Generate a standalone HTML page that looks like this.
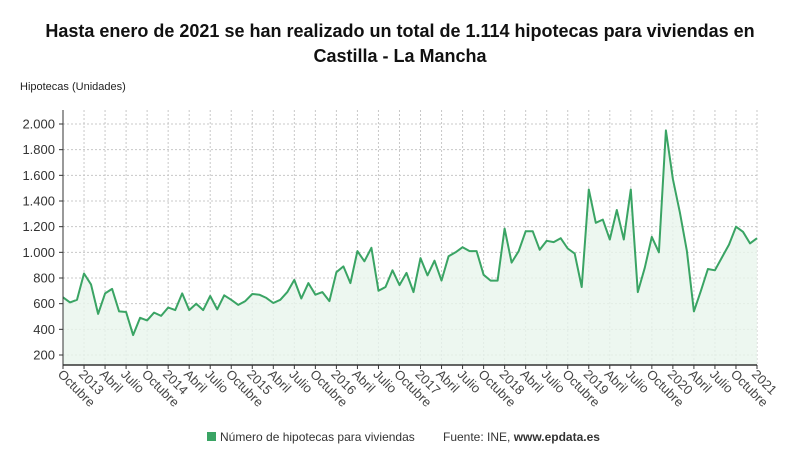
<!DOCTYPE html>
<html><head><meta charset="utf-8"><style>
body{margin:0;background:#fff;width:800px;height:470px;overflow:hidden;font-family:"Liberation Sans",sans-serif}
#title{position:absolute;left:0;top:19px;width:800px;text-align:center;font-weight:bold;font-size:18px;line-height:25px;color:#111}
</style></head><body>
<div id="title">Hasta enero de 2021 se han realizado un total de 1.114 hipotecas para viviendas en<br>Castilla - La Mancha</div>
<svg id="chart" width="800" height="470" style="position:absolute;left:0;top:0"></svg>
<script>
const values=[650,610,630,
835,750,520,680,715,540,535,355,490,470,530,505,
570,550,680,550,600,550,660,555,665,630,590,620,
675,670,645,605,630,690,785,640,760,670,690,620,
845,890,760,1010,930,1035,700,730,860,745,840,690,
955,820,935,780,970,1000,1040,1010,1010,825,780,780,
1185,920,1010,1165,1165,1020,1090,1080,1110,1030,990,730,
1490,1230,1255,1100,1330,1100,1490,690,880,1120,1000,1950,
1570,1310,1010,540,700,870,860,960,1060,1200,1160,1070,
1110];
const yTicks=[200,400,600,800,1000,1200,1400,1600,1800,2000];
const xLabels=["Octubre","2013","Abril","Julio","Octubre","2014","Abril","Julio","Octubre","2015","Abril","Julio","Octubre","2016","Abril","Julio","Octubre","2017","Abril","Julio","Octubre","2018","Abril","Julio","Octubre","2019","Abril","Julio","Octubre","2020","Abril","Julio","Octubre","2021"];
const NS="http://www.w3.org/2000/svg";
const svg=document.getElementById('chart');
const X0=63,X1=757,YB=365;
const x=i=>X0+(X1-X0)*i/(values.length-1);
const y=v=>355-(v-200)*(231/1800);
function mk(t,a,p){const e=document.createElementNS(NS,t);for(const k in a)e.setAttribute(k,a[k]);(p||svg).appendChild(e);return e;}
let t=mk('text',{x:20,y:90,'font-size':11,fill:'#222'});t.textContent='Hipotecas (Unidades)';


yTicks.forEach(v=>{
 const g=mk('line',{x1:X0,x2:X1,y1:y(v),y2:y(v),stroke:'#c8c8c8','stroke-dasharray':'2,2'});
 
 
 mk('line',{x1:X0-4,x2:X0,y1:y(v),y2:y(v),stroke:'#333'});
 const l=mk('text',{x:X0-8,y:y(v)+4.5,'font-size':13,fill:'#333','text-anchor':'end'});
 l.textContent=v.toLocaleString('de-DE');
 
 
});
xLabels.forEach((s,k)=>{
 const i=k*3, xx=x(i);
 const g=mk('line',{x1:xx,x2:xx,y1:110,y2:YB,stroke:'#c8c8c8','stroke-dasharray':'2,2'});
 
 
 mk('line',{x1:xx,x2:xx,y1:YB,y2:YB+4,stroke:'#333'});
 const l=mk('text',{x:0,y:0,'font-size':13,fill:'#444',transform:`translate(${xx-6},${YB+10}) rotate(45)`});
 l.textContent=s;
 
 
});
let d=values.map((v,i)=>(i?'L':'M')+x(i).toFixed(1)+','+y(v).toFixed(1)).join('');
const area=mk('path',{d:d+`L${X1},${YB}L${X0},${YB}Z`,fill:'#e8f5ec',opacity:0.8});


const line=mk('path',{d:d,fill:'none',stroke:'#3aa464','stroke-width':2,'stroke-linejoin':'round'});


mk('line',{x1:X0,x2:X0,y1:110,y2:YB,stroke:'#333'});
mk('line',{x1:X0,x2:X1,y1:YB,y2:YB,stroke:'#333','stroke-width':1.5});
const lg=mk('rect',{x:207,y:432,width:9,height:9,fill:'#3aa464'});


t=mk('text',{x:220,y:441,'font-size':12,fill:'#333'});t.textContent='Número de hipotecas para viviendas';


t=mk('text',{x:443,y:441,'font-size':12,fill:'#333'});
t.innerHTML='Fuente: INE, <tspan font-weight="bold">www.epdata.es</tspan>';


</script>
</body></html>
